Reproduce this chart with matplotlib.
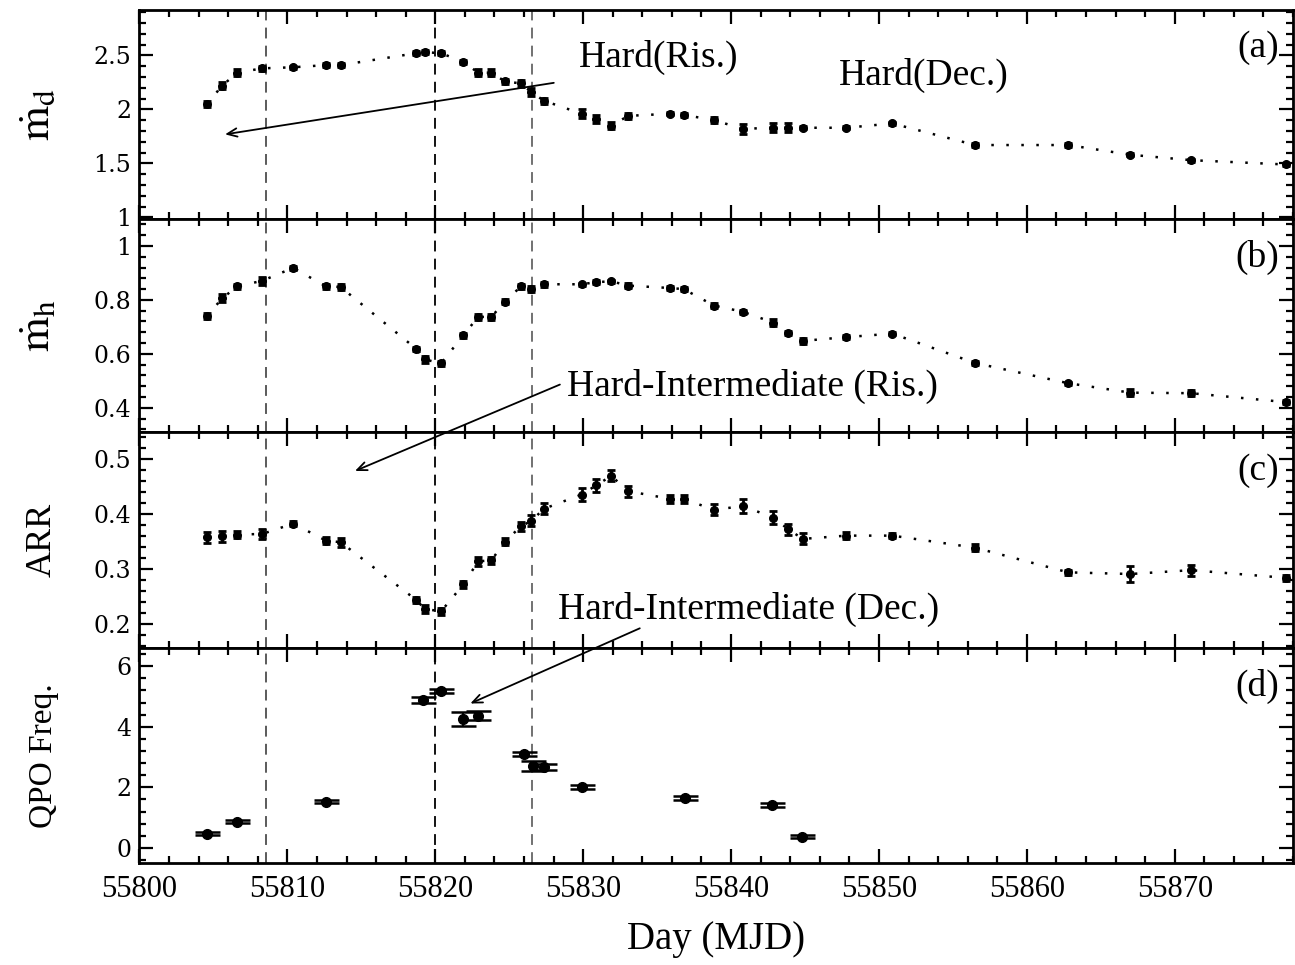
import matplotlib
matplotlib.use('Agg')
import matplotlib.pyplot as plt
from matplotlib.ticker import MultipleLocator, FormatStrFormatter, FuncFormatter

plt.rcParams['font.family'] = ['Liberation Serif', 'DejaVu Serif']
plt.rcParams['mathtext.fontset'] = 'stix'

# 时间 (MJD)，面板 a/b/c 共用
mjd = [55804.55, 55805.6, 55806.6, 55808.3, 55810.4, 55812.6, 55813.6, 55818.7, 55819.3,
       55820.4, 55821.9, 55822.9, 55823.8, 55824.7, 55825.8, 55826.5, 55827.35, 55829.9,
       55830.9, 55831.9, 55833.05, 55835.9, 55836.8, 55838.85, 55840.8, 55842.85, 55843.85,
       55844.85, 55847.8, 55850.9, 55856.5, 55862.8, 55867.0, 55871.1, 55877.5]

# (a) 盘吸积率
mdot_d = [2.05, 2.22, 2.34, 2.38, 2.39, 2.41, 2.41, 2.52, 2.53, 2.52, 2.44, 2.34, 2.34,
          2.26, 2.24, 2.16, 2.08, 1.96, 1.91, 1.85, 1.94, 1.96, 1.95, 1.90, 1.82, 1.83,
          1.83, 1.83, 1.83, 1.87, 1.67, 1.67, 1.58, 1.53, 1.49]
mdot_d_err = [0.03, 0.03, 0.03, 0.02, 0.015, 0.015, 0.02, 0.02, 0.02, 0.02, 0.02, 0.03, 0.03,
              0.025, 0.035, 0.035, 0.03, 0.04, 0.035, 0.03, 0.025, 0.015, 0.02, 0.03, 0.045, 0.04,
              0.04, 0.015, 0.015, 0.015, 0.015, 0.015, 0.015, 0.015, 0.015]

# (b) 晕吸积率
mdot_h = [0.74, 0.806, 0.85, 0.871, 0.919, 0.85, 0.848, 0.619, 0.579, 0.565, 0.669, 0.737,
          0.737, 0.794, 0.85, 0.84, 0.858, 0.858, 0.866, 0.869, 0.853, 0.844, 0.84, 0.779,
          0.756, 0.716, 0.678, 0.648, 0.662, 0.675, 0.566, 0.491, 0.456, 0.454, 0.421]
mdot_h_err = [0.012, 0.015, 0.008, 0.015, 0.008, 0.01, 0.01, 0.008, 0.012, 0.01, 0.01, 0.012,
              0.012, 0.008, 0.008, 0.01, 0.01, 0.006, 0.006, 0.006, 0.008, 0.008, 0.008, 0.008,
              0.008, 0.012, 0.008, 0.01, 0.006, 0.006, 0.006, 0.006, 0.014, 0.012, 0.008]

# (c) ARR
arr = [0.358, 0.360, 0.363, 0.364, 0.383, 0.352, 0.349, 0.244, 0.227, 0.223, 0.272, 0.314,
       0.316, 0.350, 0.378, 0.388, 0.410, 0.436, 0.453, 0.470, 0.442, 0.428, 0.428, 0.408,
       0.415, 0.394, 0.373, 0.355, 0.361, 0.361, 0.339, 0.294, 0.291, 0.298, 0.284]
arr_err = [0.01, 0.01, 0.006, 0.01, 0.005, 0.006, 0.008, 0.005, 0.008, 0.006, 0.006, 0.008,
           0.006, 0.006, 0.008, 0.01, 0.01, 0.012, 0.012, 0.01, 0.01, 0.008, 0.008, 0.01,
           0.013, 0.012, 0.01, 0.01, 0.006, 0.005, 0.006, 0.005, 0.015, 0.01, 0.006]

# (d) QPO 频率
qpo_mjd = [55804.55, 55806.6, 55812.6, 55819.2, 55820.4, 55821.9, 55822.9, 55826.0, 55826.6,
           55827.35, 55829.9, 55836.9, 55842.8, 55844.8]
qpo_freq = [0.47, 0.87, 1.53, 4.89, 5.18, 4.25, 4.36, 3.10, 2.71, 2.66, 2.02, 1.64, 1.42, 0.36]
qpo_err = [0.05, 0.06, 0.06, 0.1, 0.08, 0.23, 0.15, 0.08, 0.17, 0.1, 0.07, 0.07, 0.06, 0.05]

# 态转变时刻
transitions = [55808.57, 55820.0, 55826.57]
trans_colors = ['0.3', 'k', '0.4']

fig = plt.figure(figsize=(12.95, 9.65), dpi=100)
gs = fig.add_gridspec(4, 1, left=0.1077, right=0.9985, top=0.9896, bottom=0.1057,
                      hspace=0, height_ratios=[209, 213, 216, 215])
axes = [fig.add_subplot(gs[i]) for i in range(4)]
ax_a, ax_b, ax_c, ax_d = axes

dot_style = dict(fmt='o', color='k', ms=5.5, elinewidth=2, capsize=3, capthick=2)
for ax, vals, errs in [(ax_a, mdot_d, mdot_d_err), (ax_b, mdot_h, mdot_h_err), (ax_c, arr, arr_err)]:
    ax.plot(mjd, vals, color='k', ls=(0, (1, 5)), lw=1.8, zorder=2)
    ax.errorbar(mjd, vals, yerr=errs, zorder=3, **dot_style)

ax_d.errorbar(qpo_mjd, qpo_freq, yerr=qpo_err, fmt='o', color='k', ms=7, elinewidth=1.5,
              capsize=9, capthick=1.8, zorder=3)

ylims = [(0.985, 2.92), (0.31, 1.1), (0.156, 0.55), (-0.5, 6.6)]
ymajor = [0.5, 0.2, 0.1, 2]
yminor = [0.1, 0.04, 0.02, 0.4]
ylabels = [r'$\dot{\mathrm{m}}_{\mathrm{d}}$', r'$\dot{\mathrm{m}}_{\mathrm{h}}$', 'ARR', 'QPO Freq.']
ylabel_sizes = [32, 32, 26, 24]
tags = ['(a)', '(b)', '(c)', '(d)']

for i, ax in enumerate(axes):
    for x, c in zip(transitions, trans_colors):
        ax.axvline(x, color=c, ls=(0, (6, 4)), lw=1.3, zorder=1)
    ax.set_xlim(55800, 55878)
    ax.set_ylim(*ylims[i])
    ax.xaxis.set_major_locator(MultipleLocator(10))
    ax.xaxis.set_minor_locator(MultipleLocator(2))
    ax.yaxis.set_major_locator(MultipleLocator(ymajor[i]))
    ax.yaxis.set_minor_locator(MultipleLocator(yminor[i]))
    ax.yaxis.set_major_formatter(FuncFormatter(lambda v, p: f'{v:g}'))
    ax.tick_params(which='both', direction='in', top=True, right=True, width=1.6)
    ax.tick_params(which='major', length=10)
    ax.tick_params(which='minor', length=5)
    ax.tick_params(axis='x', labelsize=22, pad=9)
    ax.tick_params(axis='y', labelsize=17, pad=6)
    for lab in ax.get_yticklabels():
        lab.set_fontfamily('DejaVu Serif')
    for sp in ax.spines.values():
        sp.set_linewidth(2)
    ax.set_ylabel(ylabels[i], fontsize=ylabel_sizes[i])
    ax.yaxis.set_label_coords(-0.07, 0.5)
    ax.text(0.988, 0.82, tags[i], transform=ax.transAxes, ha='right', va='center', fontsize=27)
    if i < 3:
        ax.tick_params(labelbottom=False)

ax_d.xaxis.set_major_formatter(FormatStrFormatter('%d'))
ax_d.set_xlabel('Day (MJD)', fontsize=28, labelpad=12)

# 态标注
ax_a.text(55829.7, 2.48, 'Hard(Ris.)', fontsize=27, ha='left', va='center')
ax_a.text(55847.3, 2.31, 'Hard(Dec.)', fontsize=27, ha='left', va='center')
ax_a.annotate('', xy=(55805.6, 1.765), xytext=(55828.2, 2.25),
              arrowprops=dict(arrowstyle='->, head_length=0.7, head_width=0.3', lw=1.3, color='k'))

ax_b.text(55828.9, 0.48, 'Hard-Intermediate (Ris.)', fontsize=27, ha='left', va='center')
ax_c.annotate('', xy=(55814.4, 0.477), xycoords=ax_c.transData,
              xytext=(55828.6, 0.49), textcoords=ax_b.transData,
              arrowprops=dict(arrowstyle='->, head_length=0.7, head_width=0.3', lw=1.3, color='k'),
              annotation_clip=False)

ax_c.text(55828.3, 0.226, 'Hard-Intermediate (Dec.)', fontsize=27, ha='left', va='center')
ax_d.annotate('', xy=(55822.2, 4.73), xycoords=ax_d.transData,
              xytext=(55834.0, 0.194), textcoords=ax_c.transData,
              arrowprops=dict(arrowstyle='->, head_length=0.7, head_width=0.3', lw=1.3, color='k'),
              annotation_clip=False)

fig.savefig('out.png', dpi=100)
